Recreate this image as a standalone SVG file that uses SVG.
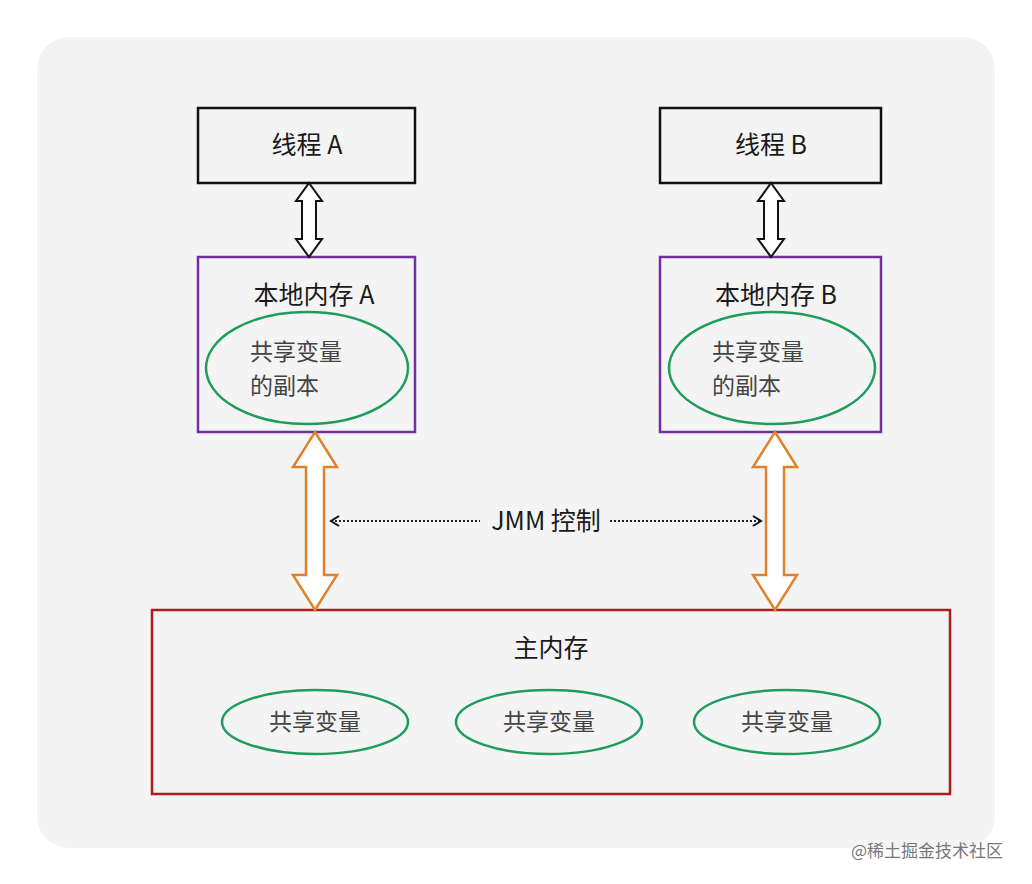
<svg xmlns="http://www.w3.org/2000/svg" width="1032" height="884" viewBox="0 0 1032 884">
<style>
text{font-family:"Noto Sans CJK SC","Noto Sans",sans-serif;fill:#1a1a1a;text-anchor:middle}
.t{font-size:25px}
.e{font-size:23px;fill:#444}
.l{text-anchor:start}
.box{fill:none;stroke-width:2.5}
.ell{fill:none;stroke:#1e9c5e;stroke-width:2.5}
.ba{fill:#fff;stroke:#111;stroke-width:2}
.oa{fill:#fff;stroke:#e0822a;stroke-width:2.5}
.dot{stroke:#222;stroke-width:2;stroke-dasharray:2 2;fill:none}
</style>
<defs><marker id="ch" markerWidth="12" markerHeight="12" refX="10" refY="6" orient="auto-start-reverse" markerUnits="userSpaceOnUse"><path d="M2,1 L10,6 L2,11" fill="none" stroke="#111" stroke-width="2"/></marker></defs>
<rect width="1032" height="884" fill="#fff"/>
<rect x="37" y="37" width="958" height="811" rx="32" fill="#f4f4f4"/>
<g id="threadA"><rect class="box" stroke="#111" x="198" y="108" width="217" height="75"/><text class="t" x="307" y="154">线程 A</text></g>
<g id="threadB"><rect class="box" stroke="#111" x="660" y="108" width="221" height="75"/><text class="t" x="771" y="154">线程 B</text></g>
<g id="localA"><rect class="box" stroke="#7030a0" x="198" y="257" width="217" height="175"/><text class="t" x="314" y="304">本地内存 A</text>
<ellipse class="ell" cx="307" cy="368" rx="101" ry="56"/><text class="e l" x="250" y="360">共享变量</text><text class="e l" x="250" y="394">的副本</text></g>
<g id="localB"><rect class="box" stroke="#7030a0" x="660" y="257" width="221" height="175"/><text class="t" x="776" y="304">本地内存 B</text>
<ellipse class="ell" cx="772" cy="368" rx="103" ry="56"/><text class="e l" x="712" y="360">共享变量</text><text class="e l" x="712" y="394">的副本</text></g>
<g id="main"><rect class="box" stroke="#b01c1c" x="152" y="610" width="798" height="184"/><text class="t" x="551" y="657">主内存</text>
<ellipse class="ell" cx="315" cy="722" rx="93" ry="32"/><text class="e" x="315" y="730">共享变量</text>
<ellipse class="ell" cx="549" cy="722" rx="93" ry="32"/><text class="e" x="549" y="730">共享变量</text>
<ellipse class="ell" cx="787" cy="722" rx="93" ry="32"/><text class="e" x="787" y="730">共享变量</text></g>
<g id="connectors">
<path class="ba" d="M309,183 L322,201 L316,201 L316,239 L322,239 L309,257 L296,239 L302,239 L302,201 L296,201Z"/>
<path class="ba" d="M771,183 L784,201 L778,201 L778,239 L784,239 L771,257 L758,239 L764,239 L764,201 L758,201Z"/>
<path class="oa" d="M315,432 L337,467 L324,467 L324,575 L337,575 L315,610 L293,575 L306,575 L306,467 L293,467Z"/>
<path class="oa" d="M775,432 L797,467 L784,467 L784,575 L797,575 L775,610 L753,575 L766,575 L766,467 L753,467Z"/>
<line class="dot" x1="331" y1="521" x2="480" y2="521" marker-start="url(#ch)"/>
<line class="dot" x1="610" y1="521" x2="761" y2="521" marker-end="url(#ch)"/>
</g>
<text class="t" x="546" y="530">JMM 控制</text>
<text x="927" y="857" style="font-size:17px;fill:#777">@稀土掘金技术社区</text>
</svg>
